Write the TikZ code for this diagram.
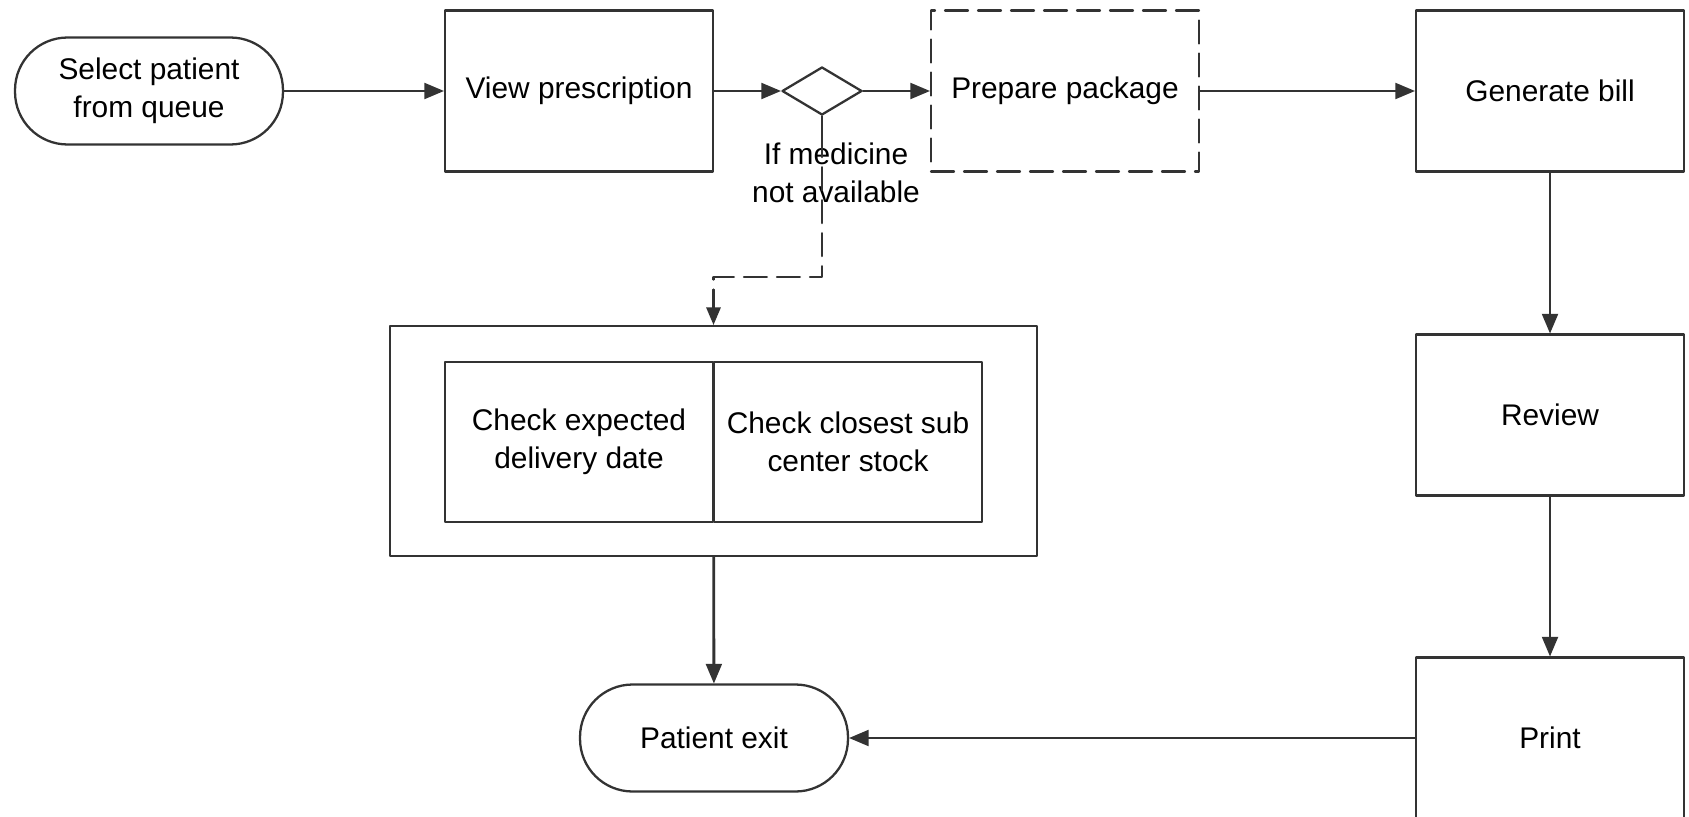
\documentclass[tikz,border=0pt]{standalone}
\usepackage{fontspec}
\setmainfont{Liberation Sans}
\usetikzlibrary{arrows,shapes.geometric}

\begin{document}
\begin{tikzpicture}[line cap=round,line join=round,>=triangle 45,x=0.02cm,y=-0.02cm,
		font=\fontsize{17}{21.6}\selectfont,
		box/.style={draw=black!80,line width=1.3pt,minimum width=5.36cm,minimum height=3.22cm,align=center,inner sep=0pt},
		term/.style={draw=black!80,line width=1.3pt,rounded corners=1.05cm,minimum width=5.36cm,minimum height=2.14cm,align=center,inner sep=0pt},
		dashline/.style={dash pattern=on 0.46cm off 0.2cm},
		flow/.style={->,draw=black!80,line width=1.6pt}]
		\useasboundingbox (0,0) rectangle (1689,817);
		\clip (0,0) rectangle (1689,817);
		% top row
		\node[term] (sel) at (149,91) {Select patient\\from queue};
		\node[box] (view) at (579,91) {View prescription};
		\node[diamond,draw=black!80,line width=1.3pt,aspect=1.67,minimum width=1.6cm,minimum height=0.96cm,inner sep=0pt] (dia) at (822,91) {};
		\node[box,dashline] (prep) at (1065,91) {Prepare package};
		\node[box] (bill) at (1550,91) {Generate bill};
		% right column
		\node[box] (rev) at (1550,415) {Review};
		\node[box] (print) at (1550,738) {Print};
		% stock checks
		\node[draw=black!80,line width=1.3pt,minimum width=12.94cm,minimum height=4.6cm] (chk) at (713.5,441) {};
		\node[box,minimum height=3.2cm] (exp) at (579,442) {Check expected\\delivery date};
		\node[box,minimum height=3.2cm] (sub) at (848,442) {Check closest sub\\center stock};
		\node[term] (exit) at (714,738) {Patient exit};
		\node[align=center,inner sep=0pt] (cond) at (836,173) {If medicine\\not available};
		\coordinate (bend) at (822,277);
		% connectors
		\draw[flow] (sel) -- (view);
		\draw[flow] (view) -- (dia);
		\draw[flow] (dia) -- (prep);
		\draw[flow] (prep) -- (bill);
		\draw[flow] (bill) -- (rev);
		\draw[flow] (rev) -- (print);
		\draw[flow] (print) -- (exit);
		\draw[flow] (chk) -- (exit);
		\draw[draw=black!80,line width=1.3pt] (dia.south) -- ++(0,18);
		\draw[flow,line width=1.3pt,dashline] (dia.south) ++(0,18) -- (bend) -| (chk.north);
\end{tikzpicture}
\end{document}
